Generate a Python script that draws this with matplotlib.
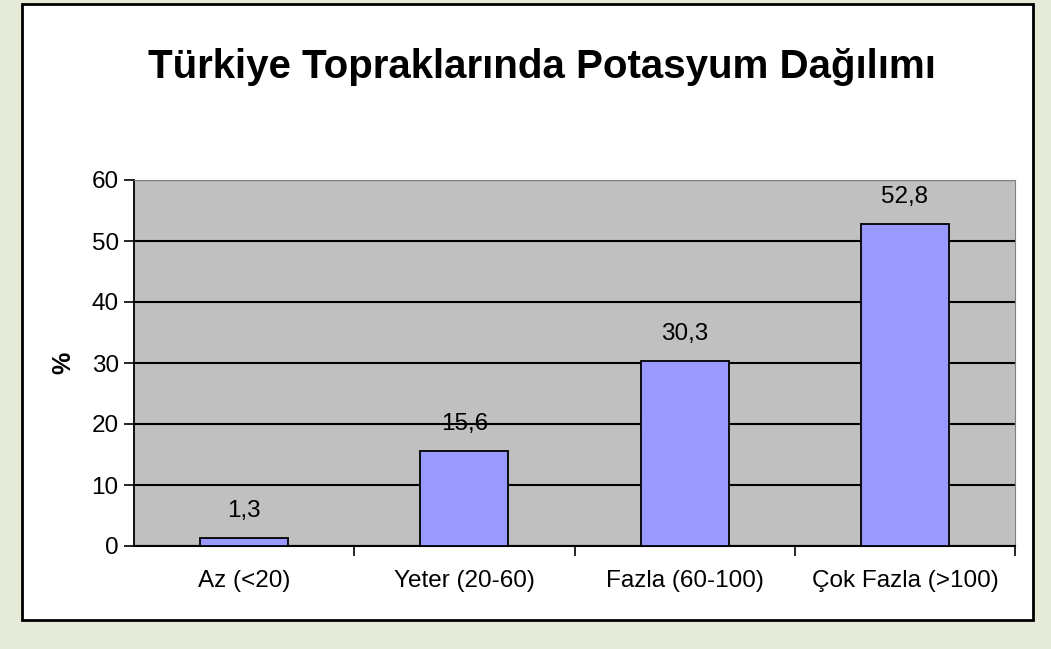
import matplotlib.pyplot as plt
from matplotlib.patches import Rectangle

kategoriler = ['Az (<20)', 'Yeter (20-60)', 'Fazla (60-100)', 'Çok Fazla (>100)']
yuzdeler = [1.3, 15.6, 30.3, 52.8]
y_tikler = [0, 10, 20, 30, 40, 50, 60]

plt.rcParams['font.family'] = ['Liberation Sans', 'DejaVu Sans']

fig = plt.figure(figsize=(10.51, 6.49), dpi=100)
fig.patch.set_facecolor('#e6ebd9')

# beyaz cerceve
fig.patches.append(Rectangle((22 / 1051, 1 - 620 / 649), (1033 - 22) / 1051, (620 - 4) / 649,
                             transform=fig.transFigure, facecolor='white',
                             edgecolor='black', linewidth=2, zorder=-5))

ax = fig.add_axes([134 / 1051, 1 - 546 / 649, 881 / 1051, 366 / 649])
ax.set_zorder(2)
ax.set_facecolor('#c0c0c0')

x = range(len(kategoriler))
ax.bar(x, yuzdeler, width=0.4, color='#9999ff', edgecolor='black',
       linewidth=1.3, zorder=3)
for xi, v in zip(x, yuzdeler):
    ax.text(xi, v + 2.6, str(v).replace('.', ','), ha='center', va='bottom', fontsize=17.5)

ax.set_xlim(-0.5, 3.5)
ax.set_ylim(0, 60)
ax.set_yticks(y_tikler)
ax.set_yticklabels([str(t) for t in y_tikler], fontsize=17.5)
ax.yaxis.grid(True, color='black', linewidth=1.5, zorder=1)
ax.set_axisbelow(True)

ax.set_xticks([0.5, 1.5, 2.5, 3.5])
ax.set_xticklabels([])
ax.set_xticks(list(x), minor=True)
ax.set_xticklabels(kategoriler, minor=True, fontsize=17.5)
ax.tick_params(axis='x', which='minor', length=0, pad=17)
ax.tick_params(axis='x', which='major', length=7, width=1.2, direction='out')
ax.tick_params(axis='y', length=7, width=1.2, pad=4)

for k in ['top', 'right']:
    ax.spines[k].set_color('#808080')
ax.spines['left'].set_linewidth(1.3)
ax.spines['bottom'].set_linewidth(1.5)

ax.set_ylabel('%', fontsize=18, fontweight='bold', labelpad=12)

fig.text(542 / 1051, 1 - 67 / 649, 'Türkiye Topraklarında Potasyum Dağılımı',
         ha='center', va='center', fontsize=29, fontweight='bold')

fig.savefig('out.png', dpi=100, facecolor=fig.get_facecolor())
